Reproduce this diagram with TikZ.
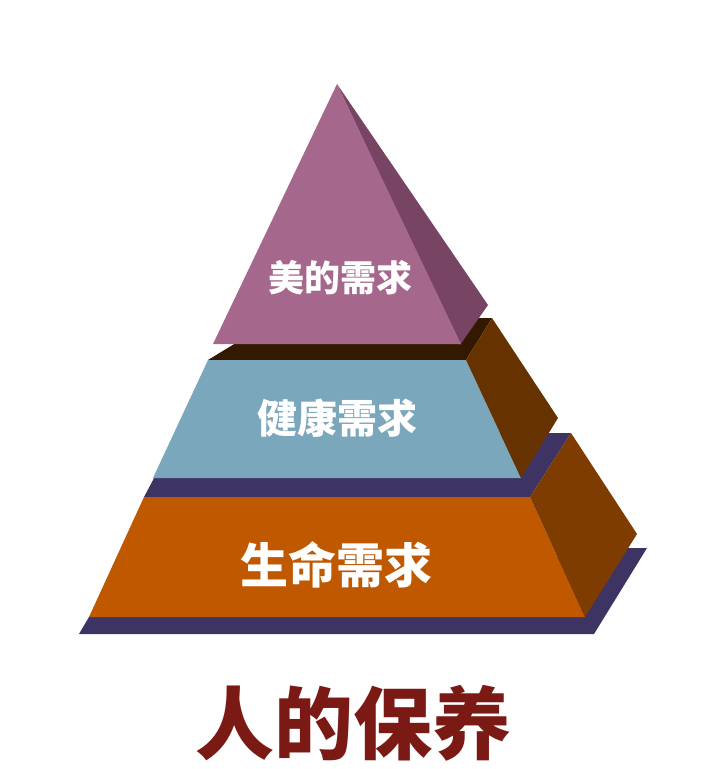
\documentclass[tikz,border=0pt]{standalone}
\usepackage{fontspec}
\newfontfamily\cjk{Noto Sans CJK SC}
\definecolor{pyrfront}{HTML}{A5678C}
\definecolor{pyrside}{HTML}{774463}
\definecolor{midtop}{HTML}{331900}
\definecolor{midfront}{HTML}{7BA7BC}
\definecolor{midside}{HTML}{663300}
\definecolor{slate}{HTML}{3D3464}
\definecolor{botfront}{HTML}{C05800}
\definecolor{botside}{HTML}{7F3C00}
\definecolor{titlered}{HTML}{7B1A14}
\tikzset{
  lbl/.style={text=white, font=\cjk\bfseries, inner sep=0pt, anchor=center},
}
\begin{document}
\begin{tikzpicture}[x=1pt,y=-1pt]
\useasboundingbox (0,0) rectangle (709,769);
% base slab
\fill[slate] (79,634) -- (594,634) -- (647,548) -- (628,548) -- (89,617) -- cycle;
% bottom tier
\fill[slate] (144,497) -- (530,497) -- (571,433) -- (178,433) -- cycle;
\fill[botfront] (144,497) -- (530,497) -- (585,617) -- (89,617) -- cycle;
\fill[botside] (530,497) -- (571,433) -- (637,534) -- (585,617) -- cycle;
% middle tier
\fill[midtop] (208,360) -- (466,360) -- (492,318) -- (277,318) -- cycle;
\fill[midfront] (208,360) -- (466,360) -- (521,478) -- (153,478) -- cycle;
\fill[midside] (466,360) -- (492,318) -- (558,418) -- (521,478) -- cycle;
% top pyramid
\fill[pyrside] (337,84) -- (488,305) -- (460,345) -- cycle;
\fill[pyrfront] (337,84) -- (461,344) -- (213,344) -- cycle;
% labels
\node[lbl, font=\cjk\bfseries\fontsize{36pt}{36pt}\selectfont] (beauty) at (340,278) {美的需求};
\node[lbl, font=\cjk\bfseries\fontsize{40pt}{40pt}\selectfont] (health) at (337,418) {健康需求};
\node[lbl, font=\cjk\bfseries\fontsize{48pt}{48pt}\selectfont] (life) at (336,565) {生命需求};
\node[lbl, text=titlered, font=\cjk\bfseries\fontsize{79pt}{79pt}\selectfont] (title) at (353,723) {人的保养};
\end{tikzpicture}
\end{document}
